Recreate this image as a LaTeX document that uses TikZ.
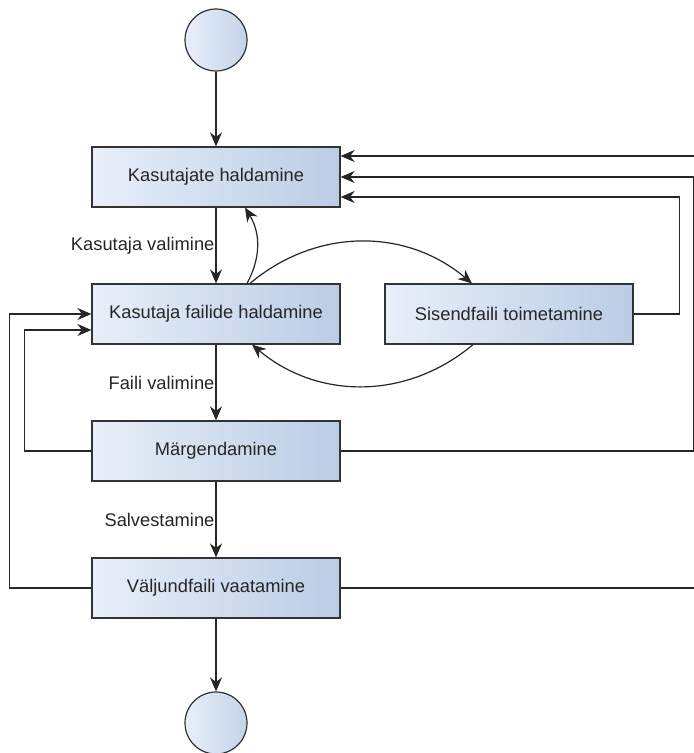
\documentclass[tikz,border=0pt]{standalone}
\usepackage{fontspec}
\setmainfont{Liberation Sans}
\usetikzlibrary{arrows.meta}
\definecolor{boxlight}{HTML}{E8EFF9}
\definecolor{boxdark}{HTML}{BACDE5}
\definecolor{edgegray}{HTML}{333333}

\begin{document}
\begin{tikzpicture}[x=1pt,y=-1pt,
  activity/.style={draw=edgegray, line width=1.2pt, left color=boxlight, right color=boxdark,
    minimum width=248pt, minimum height=60pt, font=\fontsize{18.3}{21}\selectfont, text=black!85},
  terminal/.style={circle, draw=edgegray, line width=1.2pt, left color=boxlight, right color=boxdark!80!boxlight,
    minimum size=62pt, inner sep=0pt},
  arr/.style={-{Stealth[length=14pt,width=12pt,inset=4.5pt]}, line width=1.2pt, draw=black!85},
  lbl/.style={font=\fontsize{18.3}{21}\selectfont, text=black!85, inner sep=1pt}]
  \useasboundingbox (0,0) rectangle (694,753);

  % states
  \node[terminal] (start) at (216,40) {};
  \node[activity] (kh)  at (216,177) {Kasutajate haldamine};
  \node[activity] (kfh) at (216,314) {Kasutaja failide haldamine};
  \node[activity] (sft) at (509,314) {Sisendfaili toimetamine};
  \node[activity] (mrg) at (216,451) {Märgendamine};
  \node[activity] (vfv) at (216,588) {Väljundfaili vaatamine};
  \node[terminal] (stop) at (216,723) {};

  % main flow
  \draw[arr] (start) -- (kh);
  \draw[arr] (kh)  -- node[lbl, left] {Kasutaja valimine} (kfh);
  \draw[arr] (kfh) -- node[lbl, left] {Faili valimine} (mrg);
  \draw[arr] (mrg) -- node[lbl, left] {Salvestamine} (vfv);
  \draw[arr] (vfv) -- (stop);

  % curved links
  \draw[arr] ([xshift=31pt]kfh.north) to[bend right=30] ([xshift=29pt]kh.south);
  \draw[arr] ([xshift=34pt]kfh.north) to[bend left=40] ([xshift=-37pt]sft.north);
  \draw[arr] ([xshift=-36pt]sft.south) to[bend left=40] ([xshift=36pt]kfh.south);

  % return lines, right
  \draw[arr] (sft.east) -- ++(46,0) |- ([yshift=-20pt]kh.east);
  \draw[arr] (mrg.east) -- ++(353,0) |- (kh.east);
  \draw[arr] (vfv.east) -- ++(370,0) |- ([yshift=21pt]kh.east);

  % return lines, left
  \draw[arr] (mrg.west) -- ++(-67,0) |- ([yshift=-16pt]kfh.west);
  \draw[arr] (vfv.west) -- ++(-82,0) |- (kfh.west);
\end{tikzpicture}
\end{document}
